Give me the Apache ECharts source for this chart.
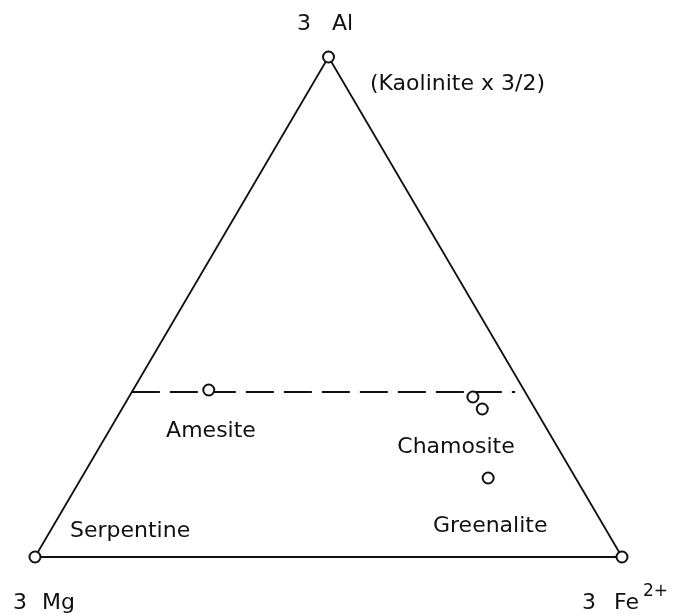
<!DOCTYPE html>
<html><head><meta charset="utf-8">
<script src="https://cdn.jsdelivr.net/npm/echarts@6/dist/echarts.min.js"></script>
<style>html,body{margin:0;padding:0;background:#fff}#c{width:676px;height:615px}</style>
</head><body><div id="c"></div>
<script>
// Ternary compositions: fractions of the 3 octahedral cations [Al, Mg, Fe2+]
const vertexCoef = '3';
const vertexLabels = ['Al', 'Mg', 'Fe'];
const feCharge = '2+';
const vertexAl = [1, 0, 0];
const vertexMg = [0, 1, 0];
const vertexFe = [0, 0, 1];

const pointNames = ['Amesite', 'Chamosite', 'Chamosite', 'Greenalite'];
const pointAl = [0.334, 0.320, 0.296, 0.158];
const pointMg = [0.537, 0.094, 0.090, 0.149];
const pointFe = [0.129, 0.586, 0.614, 0.693];

// dashed line at Al = 1/3
const dashAl = [0.33, 0.33];
const dashMg = [0.67, 0.017];
const dashFe = [0.0, 0.653];

const fieldLabels = ['Amesite', 'Chamosite', 'Serpentine', 'Greenalite', '(Kaolinite x 3/2)'];

function tern(al, mg, fe) { const s = al + mg + fe; return [(fe + al / 2) / s, al / s]; }

const outline = [1, 2, 0, 1].map(i => tern(vertexAl[i], vertexMg[i], vertexFe[i]));
const vertexPts = vertexAl.map((a, i) => tern(a, vertexMg[i], vertexFe[i]));
const pts = pointAl.map((a, i) => tern(a, pointMg[i], pointFe[i]));
const dash = dashAl.map((a, i) => tern(a, dashMg[i], dashFe[i]));

const FONT = '"DejaVu Sans", sans-serif';
function txt(text, x, y, align, size) {
  return {
    type: 'text', x: x, y: y, silent: true,
    style: { text: text, fill: '#111', font: (size || 22) + 'px ' + FONT,
             textAlign: align || 'left', textVerticalAlign: 'middle' }
  };
}

const chart = echarts.init(document.getElementById('c'), null, { renderer: 'canvas' });
chart.setOption({
  animation: false,
  backgroundColor: '#fff',
  grid: { left: 35, right: 54, top: 57, bottom: 58 },
  xAxis: { type: 'value', min: 0, max: 1, show: false },
  yAxis: { type: 'value', min: 0, max: 1, show: false },
  series: [
    { type: 'line', data: outline, symbol: 'none', lineStyle: { color: '#111', width: 1.8 }, z: 1 },
    { type: 'line', data: dash, symbol: 'none', lineStyle: { color: '#111', width: 1.8, type: [28, 10] }, z: 1 },
    { type: 'scatter', data: vertexPts, symbol: 'circle', symbolSize: 11,
      itemStyle: { color: '#fff', borderColor: '#111', borderWidth: 2, opacity: 1 }, z: 3 },
    { type: 'scatter', data: pts, symbol: 'circle', symbolSize: 11,
      itemStyle: { color: '#fff', borderColor: '#111', borderWidth: 2, opacity: 1 }, z: 3 }
  ],
  graphic: [
    txt(vertexCoef, 297, 24),
    txt(vertexLabels[0], 332, 24),
    txt(fieldLabels[4], 370, 84),
    txt(fieldLabels[0], 211, 431, 'center'),
    txt(fieldLabels[1], 456, 447, 'center'),
    txt(fieldLabels[2], 70, 531),
    txt(fieldLabels[3], 433, 526),
    txt(vertexCoef, 13, 603),
    txt(vertexLabels[1], 42, 603),
    txt(vertexCoef, 582, 603),
    txt(vertexLabels[2], 614, 603),
    txt(feCharge, 643, 592, 'left', 17)
  ]
});
</script></body></html>
